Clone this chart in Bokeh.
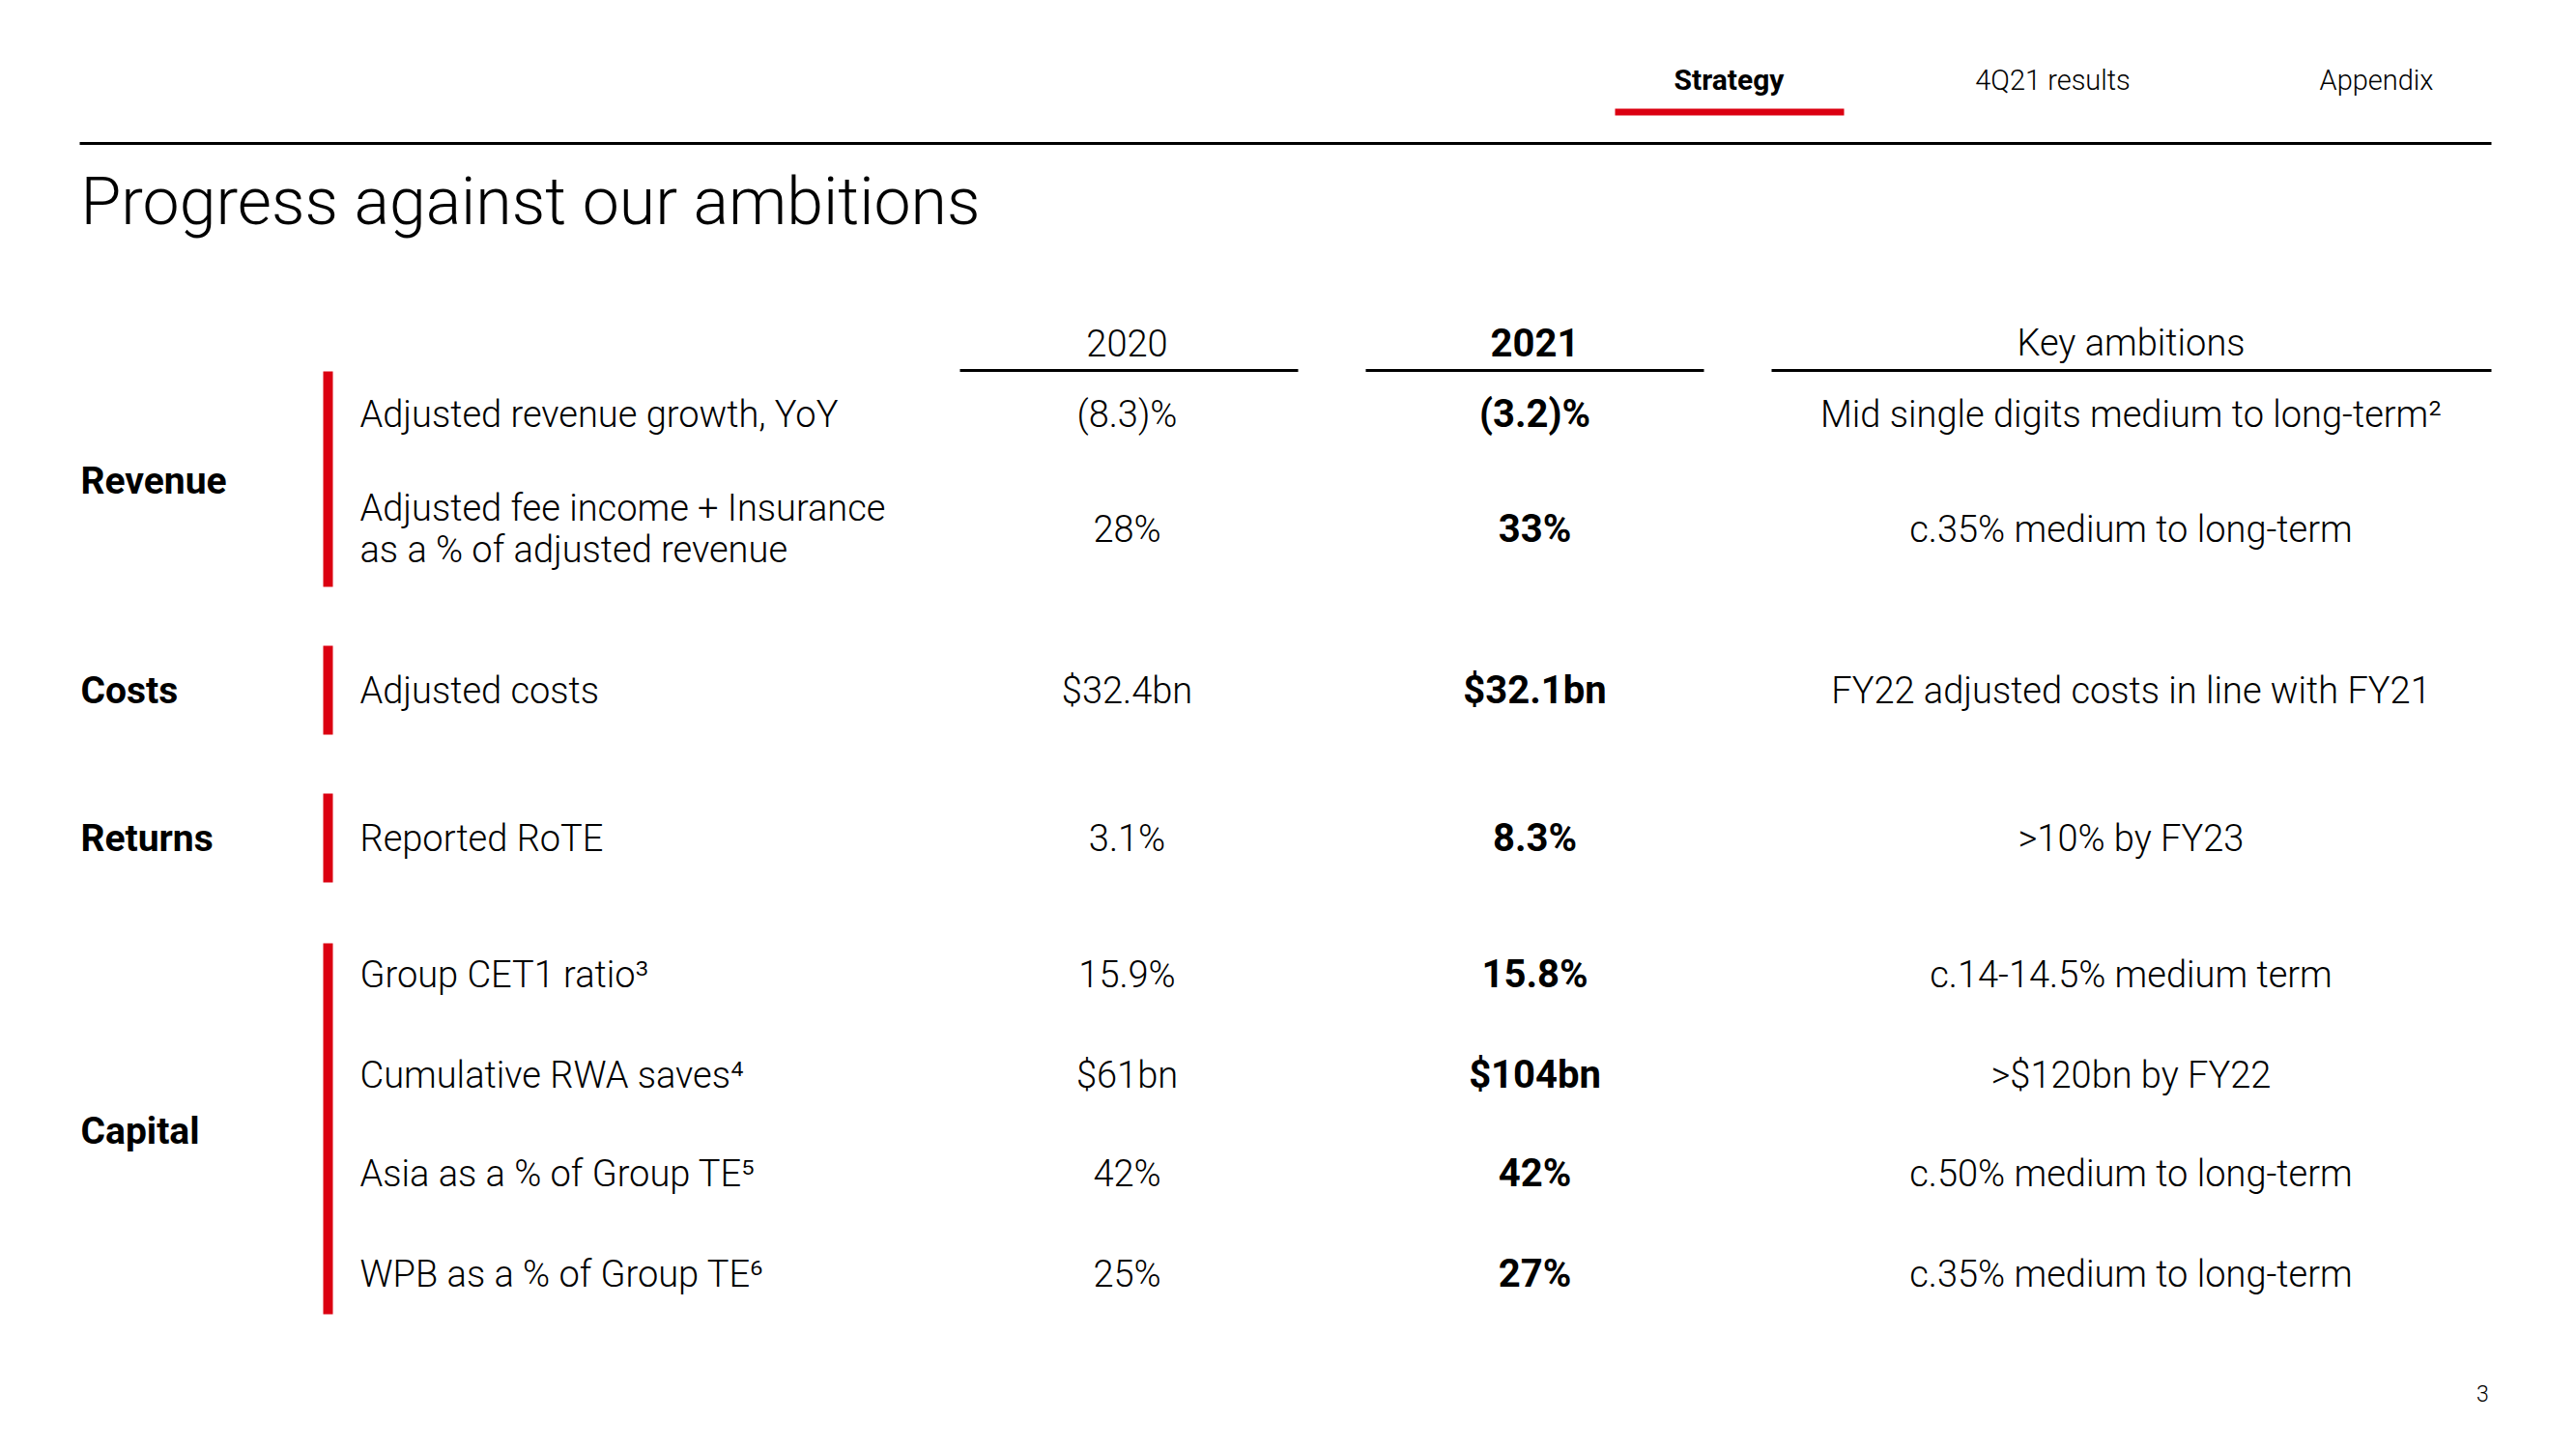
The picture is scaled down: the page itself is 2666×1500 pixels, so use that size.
from bokeh.plotting import figure
from bokeh.models import Range1d, ColumnDataSource
from bokeh.core.properties import value
from bokeh.embed import file_html
from bokeh.resources import INLINE

# ---------------- data ----------------
nav_items = ["Strategy", "4Q21 results", "Appendix"]
title_text = "Progress against our ambitions"
column_headers = ["2020", "2021", "Key ambitions"]
categories = ["Revenue", "Costs", "Returns", "Capital"]
metrics = [
    "Adjusted revenue growth, YoY",
    "Adjusted fee income + Insurance\nas a % of adjusted revenue",
    "Adjusted costs",
    "Reported RoTE",
    "Group CET1 ratio\u00b3",
    "Cumulative RWA saves\u2074",
    "Asia as a % of Group TE\u2075",
    "WPB as a % of Group TE\u2076",
]
values_2020 = ["(8.3)%", "28%", "$32.4bn", "3.1%", "15.9%", "$61bn", "42%", "25%"]
values_2021 = ["(3.2)%", "33%", "$32.1bn", "8.3%", "15.8%", "$104bn", "42%", "27%"]
key_ambitions = [
    "Mid single digits medium to long-term\u00b2",
    "c.35% medium to long-term",
    "FY22 adjusted costs in line with FY21",
    ">10% by FY23",
    "c.14-14.5% medium term",
    ">$120bn by FY22",
    "c.50% medium to long-term",
    "c.35% medium to long-term",
]
page_number = "3"

# ---------------- layout (pixels of the slide) ----------------
RED = "#DB0011"
INK = "#000000"
FONT = value("Roboto Light")
BOLD_FONT = value("Roboto")

nav_x = [1789, 2124, 2459]
nav_y = 82
col_x = [1166, 1588, 2205]
col_rule = [(993, 1343), (1413, 1763), (1833, 2578)]
header_y = 354
header_rule_y = 383
row_y = [428, 547, 714, 867, 1008, 1112, 1214, 1318]
cat_y = [497, 714, 867, 1170]
bar_span = [(384, 607), (668, 760), (821, 913), (976, 1360)]
label_x = 372
cat_x = 83
bar_x = 339
line_gap = 43

W, H = 2650, 1484
p = figure(width=W, height=H, output_backend="svg", toolbar_location=None,
           x_range=Range1d(0, W), y_range=Range1d(H, 0),
           min_border=0, outline_line_color=None, background_fill_color="white",
           border_fill_color="white")
p.axis.visible = False
p.grid.visible = False

# navigation
p.text(x=nav_x[1:], y=[nav_y] * 2, text=nav_items[1:], text_font=FONT, text_font_size="29px",
       text_align="center", text_baseline="middle", text_color=INK)
p.text(x=[nav_x[0]], y=[nav_y], text=[nav_items[0]], text_font=BOLD_FONT,
       text_font_style="bold", text_font_size="30px", text_align="center",
       text_baseline="middle", text_color=INK)
p.quad(left=[1671], right=[1908], top=[112], bottom=[119], color=RED, line_color=None)
p.segment(x0=[82], x1=[2578], y0=[148], y1=[148], line_color=INK, line_width=3)

# title
p.text(x=[83], y=[208], text=[title_text], text_font=FONT, text_font_size="68px",
       text_align="left", text_baseline="middle", text_color=INK)

# column headers
p.text(x=[col_x[0], col_x[2]], y=[header_y] * 2, text=[column_headers[0], column_headers[2]],
       text_font=FONT, text_font_size="38px", text_align="center", text_baseline="middle",
       text_color=INK)
p.text(x=[col_x[1]], y=[header_y], text=[column_headers[1]], text_font=BOLD_FONT,
       text_font_style="bold", text_font_size="40px", text_align="center",
       text_baseline="middle", text_color=INK)
p.segment(x0=[a for a, b in col_rule], x1=[b for a, b in col_rule],
          y0=[header_rule_y] * 3, y1=[header_rule_y] * 3, line_color=INK, line_width=3)

# category labels and red bars
p.text(x=[cat_x] * len(categories), y=cat_y, text=categories, text_font=BOLD_FONT,
       text_font_style="bold", text_font_size="39px", text_align="left",
       text_baseline="middle", text_color=INK)
p.quad(left=[bar_x - 5] * 4, right=[bar_x + 5] * 4, top=[a for a, b in bar_span],
       bottom=[b for a, b in bar_span], color=RED, line_color=None)

# metric labels (split multi-line)
lx, ly, lt = [], [], []
for m, y in zip(metrics, row_y):
    lines = m.split("\n")
    n = len(lines)
    for i, ln in enumerate(lines):
        lx.append(label_x)
        ly.append(y + (i - (n - 1) / 2) * line_gap)
        lt.append(ln)
p.text(x=lx, y=ly, text=lt, text_font=FONT, text_font_size="38px", text_align="left",
       text_baseline="middle", text_color=INK)

src = ColumnDataSource(dict(y=row_y, v20=values_2020, v21=values_2021, amb=key_ambitions,
                            x20=[col_x[0]] * 8, x21=[col_x[1]] * 8, xa=[col_x[2]] * 8))
p.text(x="x20", y="y", text="v20", source=src, text_font=FONT, text_font_size="38px",
       text_align="center", text_baseline="middle", text_color=INK)
p.text(x="x21", y="y", text="v21", source=src, text_font=BOLD_FONT, text_font_style="bold",
       text_font_size="40px", text_align="center", text_baseline="middle", text_color=INK)
p.text(x="xa", y="y", text="amb", source=src, text_font=FONT, text_font_size="38px",
       text_align="center", text_baseline="middle", text_color=INK)

# page number
p.text(x=[2569], y=[1442], text=[page_number], text_font=FONT, text_font_size="23px",
       text_align="center", text_baseline="middle", text_color=INK)

open("out.html", "w").write(file_html(p, INLINE))
